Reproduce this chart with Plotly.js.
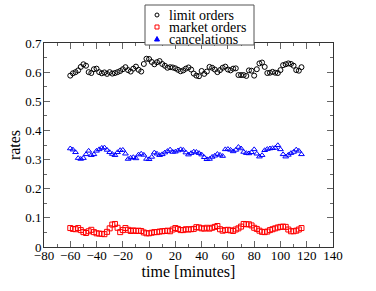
<!DOCTYPE html>
<html><head><meta charset="utf-8">
<script src="https://cdn.plot.ly/plotly-3.0.1.min.js"></script>
<style>html,body{margin:0;padding:0;background:#fff}#c{width:376px;height:291px}</style>
</head><body><div id="c"></div>
<script>
const time = [];
for (let t = -60; t <= 116; t += 2) time.push(t);

const limitOrders = [0.588,0.596,0.600,0.606,0.618,0.627,0.622,0.600,0.597,0.610,0.612,0.600,0.596,0.599,0.594,0.600,0.595,0.597,0.600,0.604,0.610,0.617,0.607,0.602,0.612,0.619,0.608,0.602,0.628,0.646,0.645,0.635,0.627,0.634,0.638,0.628,0.622,0.615,0.617,0.616,0.613,0.608,0.603,0.606,0.612,0.616,0.609,0.595,0.588,0.586,0.604,0.594,0.602,0.618,0.615,0.609,0.600,0.607,0.615,0.619,0.609,0.606,0.612,0.613,0.590,0.590,0.590,0.587,0.606,0.605,0.588,0.610,0.630,0.633,0.618,0.597,0.598,0.601,0.598,0.597,0.607,0.624,0.627,0.630,0.628,0.622,0.607,0.605,0.617];

const marketOrders = [0.065,0.062,0.061,0.065,0.058,0.051,0.048,0.054,0.059,0.051,0.047,0.046,0.045,0.044,0.052,0.064,0.077,0.079,0.066,0.051,0.058,0.065,0.059,0.055,0.057,0.055,0.056,0.055,0.050,0.047,0.047,0.049,0.051,0.051,0.053,0.054,0.055,0.056,0.054,0.060,0.065,0.062,0.058,0.058,0.061,0.060,0.061,0.062,0.068,0.067,0.064,0.063,0.066,0.063,0.066,0.069,0.072,0.061,0.056,0.058,0.059,0.057,0.055,0.060,0.064,0.070,0.079,0.078,0.078,0.074,0.066,0.062,0.056,0.052,0.051,0.053,0.058,0.061,0.064,0.067,0.069,0.070,0.069,0.060,0.054,0.054,0.056,0.060,0.065];

const cancelations = [0.338,0.334,0.325,0.305,0.302,0.305,0.318,0.330,0.315,0.318,0.330,0.335,0.340,0.341,0.333,0.325,0.319,0.315,0.325,0.332,0.333,0.320,0.302,0.306,0.308,0.304,0.317,0.320,0.316,0.302,0.301,0.309,0.324,0.320,0.315,0.318,0.324,0.329,0.334,0.326,0.327,0.331,0.335,0.333,0.324,0.317,0.322,0.327,0.326,0.322,0.317,0.308,0.301,0.302,0.309,0.313,0.319,0.316,0.312,0.335,0.336,0.333,0.328,0.333,0.343,0.338,0.326,0.322,0.321,0.325,0.335,0.320,0.310,0.315,0.332,0.336,0.338,0.339,0.340,0.349,0.335,0.318,0.310,0.316,0.322,0.326,0.334,0.330,0.318];

const seriesNames = ['limit orders', 'market orders', 'cancelations'];
const seriesColors = ['#000000', '#ff0000', '#0000ff'];

const serif = '"Liberation Serif", "Times New Roman", Times, serif';

const traces = [
  {x: time, y: limitOrders, name: seriesNames[0], mode: 'markers', type: 'scatter',
   marker: {symbol: 'circle-open', size: 5, color: seriesColors[0], line: {width: 1, color: seriesColors[0]}}},
  {x: time, y: marketOrders, name: seriesNames[1], mode: 'markers', type: 'scatter',
   marker: {symbol: 'square-open', size: 5, color: seriesColors[1], line: {width: 1, color: seriesColors[1]}}},
  {x: time, y: cancelations, name: seriesNames[2], mode: 'markers', type: 'scatter',
   marker: {symbol: 'triangle-up-open', size: 5, color: seriesColors[2], line: {width: 1, color: seriesColors[2]}}}
];

// plot area in page pixels (for placing the hand-made legend)
const W = 376, H = 291, L = 44, R = 43, T = 43, B = 44;
const pw = W - L - R, ph = H - T - B;
const px = v => (v - L) / pw;
const py = v => (H - B - v) / ph;

// legend layout (page pixels)
const lgBox = {x0: 145, x1: 254, y0: 5, y1: 45};
const lgSymX = 157, lgTextX = 167, lgRows = [15, 27, 39];

const shapes = [
  {type: 'rect', xref: 'paper', yref: 'paper', layer: 'above',
   x0: px(lgBox.x0), x1: px(lgBox.x1), y0: py(lgBox.y1), y1: py(lgBox.y0),
   fillcolor: '#fff', line: {color: '#555', width: 1}},
  {type: 'circle', xref: 'paper', yref: 'paper', layer: 'above',
   x0: px(lgSymX - 2), x1: px(lgSymX + 2), y0: py(lgRows[0] + 2), y1: py(lgRows[0] - 2),
   line: {color: seriesColors[0], width: 1}},
  {type: 'rect', xref: 'paper', yref: 'paper', layer: 'above',
   x0: px(lgSymX - 2), x1: px(lgSymX + 2), y0: py(lgRows[1] + 2), y1: py(lgRows[1] - 2),
   line: {color: seriesColors[1], width: 1}},
  {type: 'path', xref: 'paper', yref: 'paper', layer: 'above',
   path: 'M' + px(lgSymX - 2.5) + ',' + py(lgRows[2] + 2) + ' L' + px(lgSymX + 2.5) + ',' + py(lgRows[2] + 2) +
         ' L' + px(lgSymX) + ',' + py(lgRows[2] - 2.5) + ' Z',
   fillcolor: seriesColors[2], line: {color: seriesColors[2], width: 1}}
];

const annotations = seriesNames.map((n, i) => ({
  text: n, xref: 'paper', yref: 'paper', x: px(lgTextX), y: py(lgRows[i]),
  xanchor: 'left', yanchor: 'middle', showarrow: false,
  font: {family: serif, size: 14, color: '#000'}
}));

const axisCommon = {
  showgrid: false, zeroline: false, showline: true, linecolor: '#333', linewidth: 1,
  mirror: 'allticks', ticks: 'inside', ticklen: 6, tickcolor: '#666', tickwidth: 1,
  tickfont: {family: serif, size: 13, color: '#000'}
};

const layout = {
  width: W, height: H,
  margin: {l: L, r: R, t: T, b: B},
  paper_bgcolor: '#fff', plot_bgcolor: '#fff',
  showlegend: false,
  xaxis: Object.assign({}, axisCommon, {
    range: [-80, 140], dtick: 20, tick0: -80, ticklabelstandoff: -4,
    minor: {dtick: 10, ticklen: 3, ticks: 'inside', tickcolor: '#666'},
    title: {text: 'time [minutes]', font: {family: serif, size: 16, color: '#000'}, standoff: 0}
  }),
  yaxis: Object.assign({}, axisCommon, {
    range: [0, 0.7], dtick: 0.1, tick0: 0, ticklabelstandoff: -1,
    minor: {dtick: 0.05, ticklen: 3, ticks: 'inside', tickcolor: '#666'},
    title: {text: 'rates', font: {family: serif, size: 16, color: '#000'}, standoff: 0}
  }),
  shapes: shapes,
  annotations: annotations
};

Plotly.newPlot('c', traces, layout, {staticPlot: true, displayModeBar: false});
</script>
</body></html>
